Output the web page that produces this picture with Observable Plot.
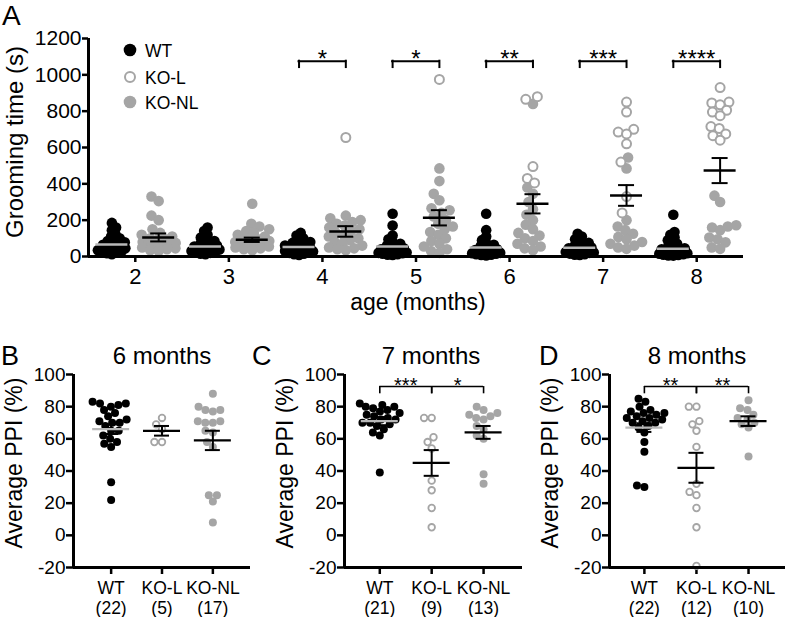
<!DOCTYPE html>
<html><head><meta charset="utf-8">
<script src="https://cdn.jsdelivr.net/npm/d3@7"></script>
<script src="https://cdn.jsdelivr.net/npm/@observablehq/plot@0.6"></script>
<style>
body{margin:0;background:#fff;}
#fig{position:relative;width:786px;height:617px;overflow:hidden;}
#fig svg{position:absolute;max-width:none;}
</style></head><body><div id="fig"></div>
<script>
// ---------------- data: panel A (grooming time, s) ----------------
const months = [2, 3, 4, 5, 6, 7, 8];
const groomTicks = [0, 200, 400, 600, 800, 1000, 1200];
const groomWT = [
  [185, 160, 145, 125, 110, 100, 92, 85, 78, 70, 65, 60, 55, 50, 45, 40, 35, 30, 28, 22, 18, 12],
  [160, 140, 120, 105, 95, 85, 78, 70, 65, 60, 55, 50, 45, 42, 38, 35, 30, 28, 25, 20, 15, 12],
  [130, 115, 100, 90, 80, 75, 70, 65, 60, 55, 50, 45, 40, 38, 35, 30, 28, 25, 20, 15, 12, 8],
  [235, 170, 115, 95, 80, 70, 62, 55, 50, 45, 40, 36, 32, 28, 25, 22, 20, 18, 15, 12, 10, 8],
  [235, 145, 110, 90, 75, 65, 58, 50, 45, 40, 36, 32, 28, 25, 22, 20, 18, 15, 12, 10, 8, 6],
  [125, 110, 95, 85, 75, 68, 60, 55, 50, 45, 40, 36, 32, 28, 25, 22, 20, 16, 12, 10, 8],
  [230, 135, 120, 105, 90, 80, 70, 60, 52, 45, 40, 35, 30, 26, 22, 18, 15, 12, 10, 8, 6, 5]
];
const groomKOL = [
  [], [], [655], [975],
  [880, 865, 495, 430, 405],
  [850, 795, 700, 685, 675, 620, 520, 330, 240],
  [930, 850, 845, 835, 805, 795, 775, 715, 705, 675, 665, 640]
];
const groomKONL = [
  [330, 305, 225, 200, 150, 130, 120, 110, 100, 95, 90, 80, 75, 70, 65, 60, 55, 50, 45, 40, 35, 30],
  [290, 180, 165, 150, 140, 130, 120, 110, 100, 95, 90, 85, 80, 75, 70, 65, 60, 55, 50, 45, 40, 35],
  [225, 210, 200, 190, 180, 170, 160, 150, 140, 130, 120, 110, 100, 90, 80, 70, 60, 50, 45, 40, 35],
  [485, 415, 345, 310, 265, 255, 240, 220, 200, 180, 165, 150, 135, 120, 100, 85, 70, 55, 40, 30, 20],
  [840, 380, 345, 300, 260, 230, 200, 175, 150, 130, 115, 100, 85, 70, 55, 45, 35],
  [545, 485, 200, 165, 145, 125, 108, 95, 80, 70, 60, 50, 42],
  [335, 300, 172, 165, 160, 145, 105, 95, 78, 50, 42]
];
const groomWTMean = [66, 55, 52, 55, 50, 48, 42];
const groomWTSem  = [9, 8, 7, 12, 12, 8, 11];
const groomKOMean = [105, 92, 138, 213, 290, 336, 473];
const groomKOSem  = [22, 12, 29, 42, 53, 57, 69];
const groomSig = ["", "", "*", "*", "**", "***", "****"];
const legendLabels = ["WT", "KO-L", "KO-NL"];

// ---------------- data: panels B-D (average PPI, %) ----------------
const ppiGroups = ["WT", "KO-L", "KO-NL"];
const ppiTicks = [-20, 0, 20, 40, 60, 80, 100];
const ppiTitles = ["6 months", "7 months", "8 months"];
const ppiLetters = ["B", "C", "D"];
const ppiWT6   = [83, 82, 82, 81, 80, 78, 76, 74, 72, 71, 70, 70, 68, 65, 65, 62, 60, 58, 57, 55, 33, 22];
const ppiKOL6  = [73, 69, 66, 58, 58];
const ppiKONL6 = [88, 80, 78, 78, 77, 71, 71, 70, 70, 65, 64, 58, 55, 25, 25, 21, 8];
const ppiMean6 = [66, 65, 59];
const ppiSem6  = [3, 3, 6];
const ppiWT7   = [82, 81, 80, 80, 79, 78, 77, 76, 75, 74, 73, 72, 72, 70, 70, 69, 68, 66, 64, 62, 39];
const ppiKOL7  = [73, 73, 61, 58, 54, 34, 28, 17, 5];
const ppiKONL7 = [80, 78, 76, 75, 74, 73, 72, 68, 66, 62, 60, 38, 32];
const ppiMean7 = [71, 45, 64];
const ppiSem7  = [2.5, 8, 4];
const ppiSig7  = ["***", "*"];
const ppiWT8   = [85, 83, 80, 78, 77, 76, 76, 75, 74, 73, 73, 72, 71, 70, 70, 68, 67, 64, 58, 52, 31, 30];
const ppiKOL8  = [80, 80, 71, 69, 65, 55, 32, 27, 25, 17, 5, -19];
const ppiKONL8 = [84, 79, 78, 75, 73, 72, 70, 69, 67, 49];
const ppiMean8 = [67, 42, 71];
const ppiSem8  = [2.7, 9.3, 3];
const ppiSig8  = ["**", "**"];

// ---------------- styling ----------------
const FONT = '"Liberation Sans", Arial, Helvetica, sans-serif';
const BLACK = "#000", GRAY = "#a5a5a5", MEANGRAY = "#b8b8b8";
const fig = document.getElementById("fig");
const plain = d => String(d);

// beeswarm offsets (px) from values
function swarm(vals, ky, d, maxHalf) {
  const n = vals.length, off = new Array(n), placed = [];
  const order = d3.range(n).sort((a, b) => vals[a] - vals[b]);
  for (const i of order) {
    const y = vals[i] * ky;
    const near = placed.filter(p => Math.abs(p.y - y) < d);
    const cands = [0];
    for (const p of near) { const dx = Math.sqrt(d * d - (p.y - y) ** 2); cands.push(p.x + dx, p.x - dx); }
    cands.sort((a, b) => Math.abs(a) - Math.abs(b) || a - b);
    let best = cands.find(c => Math.abs(c) <= maxHalf + 1e-9 &&
      near.every(p => (p.x - c) ** 2 + (p.y - y) ** 2 >= d * d - 1e-6));
    if (best === undefined) {
      let bs = -1;
      for (let c = -maxHalf; c <= maxHalf + 1e-9; c += 0.5) {
        const s = Math.min(...near.map(p => Math.hypot(p.x - c, p.y - y)));
        if (s > bs) { bs = s; best = c; }
      }
    }
    off[i] = best; placed.push({x: best, y});
  }
  return off;
}

// ---------------- panel A ----------------
{
  const W = 786, H = 300, ML = 88, MR = 43, MT = 38, MB = 44;
  const xDom = [1.5, 8.5], yDom = [0, 1200];
  const kx = (W - ML - MR) / (xDom[1] - xDom[0]);
  const ky = (H - MT - MB) / (yDom[1] - yDom[0]);
  const WO = -0.25, KO = 0.25;
  const pts = [];
  months.forEach((m, i) => {
    const wt = groomWT[i];
    const ow = swarm(wt, ky, 5, 14);
    wt.forEach((v, j) => pts.push({x: m + WO + ow[j] / kx, y: v, g: "WT"}));
    const ko = groomKOL[i].map(v => ({v, g: "KO-L"})).concat(groomKONL[i].map(v => ({v, g: "KO-NL"})));
    const ok = swarm(ko.map(d => d.v), ky, 8.5, 17);
    ko.forEach((d, j) => pts.push({x: m + KO + ok[j] / kx, y: d.v, g: d.g}));
  });
  const stats = months.map((m, i) => ({m, wm: groomWTMean[i], ws: groomWTSem[i], km: groomKOMean[i], ks: groomKOSem[i]}));
  const sig = months.map((m, i) => ({m, s: groomSig[i]})).filter(d => d.s);
  const meanW = 16 / kx, capW = 8 / kx, BR = 1075, BRT = 1040;
  const plot = Plot.plot({
    width: W, height: H, marginLeft: ML, marginRight: MR, marginTop: MT, marginBottom: MB,
    x: {domain: xDom}, y: {domain: yDom},
    style: {fontFamily: FONT, color: BLACK, background: "transparent"},
    marks: [
      Plot.axisY({ticks: groomTicks, tickFormat: plain, tickSize: 6, tickPadding: 1, fontSize: 21, strokeWidth: 2.5, label: null}),
      Plot.axisX({ticks: months, tickFormat: plain, tickSize: 6, tickPadding: 6, fontSize: 22, strokeWidth: 2.5, label: null}),
      Plot.dot(pts.filter(d => d.g === "WT"), {x: "x", y: "y", r: 5.3, fill: BLACK}),
      Plot.dot(pts.filter(d => d.g === "KO-NL"), {x: "x", y: "y", r: 5.3, fill: GRAY}),
      Plot.dot(pts.filter(d => d.g === "KO-L"), {x: "x", y: "y", r: 4.5, fill: "#fff", stroke: GRAY, strokeWidth: 2}),
      // WT mean (gray) and SEM
      Plot.ruleX(stats, {x: d => d.m + WO, y1: d => d.wm - d.ws, y2: d => d.wm + d.ws, stroke: BLACK, strokeWidth: 2}),
      Plot.ruleY(stats, {y: d => d.wm + d.ws, x1: d => d.m + WO - capW, x2: d => d.m + WO + capW, stroke: BLACK, strokeWidth: 2}),
      Plot.ruleY(stats, {y: d => d.wm - d.ws, x1: d => d.m + WO - capW, x2: d => d.m + WO + capW, stroke: BLACK, strokeWidth: 2}),
      Plot.ruleY(stats, {y: "wm", x1: d => d.m + WO - meanW, x2: d => d.m + WO + meanW, stroke: MEANGRAY, strokeWidth: 2.5}),
      // KO mean and SEM
      Plot.ruleX(stats, {x: d => d.m + KO, y1: d => d.km - d.ks, y2: d => d.km + d.ks, stroke: BLACK, strokeWidth: 2}),
      Plot.ruleY(stats, {y: d => d.km + d.ks, x1: d => d.m + KO - capW, x2: d => d.m + KO + capW, stroke: BLACK, strokeWidth: 2}),
      Plot.ruleY(stats, {y: d => d.km - d.ks, x1: d => d.m + KO - capW, x2: d => d.m + KO + capW, stroke: BLACK, strokeWidth: 2}),
      Plot.ruleY(stats, {y: "km", x1: d => d.m + KO - meanW, x2: d => d.m + KO + meanW, stroke: BLACK, strokeWidth: 2.5}),
      // significance brackets
      Plot.ruleY(sig, {y: BR, x1: d => d.m + WO, x2: d => d.m + KO, stroke: BLACK, strokeWidth: 2, strokeLinecap: "square"}),
      Plot.ruleX(sig, {x: d => d.m + WO, y1: BRT, y2: BR, stroke: BLACK, strokeWidth: 2, strokeLinecap: "square"}),
      Plot.ruleX(sig, {x: d => d.m + KO, y1: BRT, y2: BR, stroke: BLACK, strokeWidth: 2, strokeLinecap: "square"}),
      Plot.text(sig, {x: "m", y: BR, text: "s", fontSize: 24, lineAnchor: "bottom", dy: 6, fill: BLACK}),
      // axis lines
      Plot.ruleX([xDom[0]], {stroke: BLACK, strokeWidth: 3}),
      Plot.ruleY([yDom[0]], {stroke: BLACK, strokeWidth: 3})
    ]
  });
  plot.style.left = "0px"; plot.style.top = "0px";
  fig.appendChild(plot);
}

// ---------------- panels B-D ----------------
const PPI_TOP = 330, PPI_H = 287, PPI_MT = 44, PPI_MB = 50;
const panels = [
  {left: 0, width: 258, ml: 73, mr: 8, xDom: [-0.74, 2.74], data: [ppiWT6, ppiKOL6, ppiKONL6], mean: ppiMean6, sem: ppiSem6, sig: null},
  {left: 258, width: 268, ml: 86, mr: 4, xDom: [-0.68, 2.75], data: [ppiWT7, ppiKOL7, ppiKONL7], mean: ppiMean7, sem: ppiSem7, sig: ppiSig7},
  {left: 526, width: 260, ml: 83, mr: 1, xDom: [-0.67, 2.71], data: [ppiWT8, ppiKOL8, ppiKONL8], mean: ppiMean8, sem: ppiSem8, sig: ppiSig8}
];
panels.forEach(p => {
  const yDom = [ppiTicks[0], ppiTicks[ppiTicks.length - 1]];
  const kx = (p.width - p.ml - p.mr) / (p.xDom[1] - p.xDom[0]);
  const ky = (PPI_H - PPI_MT - PPI_MB) / (yDom[1] - yDom[0]);
  const pts = [];
  p.data.forEach((vals, gi) => {
    const off = swarm(vals, ky, 7.6, 20);
    vals.forEach((v, j) => pts.push({x: gi + off[j] / kx, y: v, g: ppiGroups[gi]}));
  });
  const stats = ppiGroups.map((g, i) => ({i, g, mean: p.mean[i], sem: p.sem[i]}));
  const meanW = 18.5 / kx, capW = 7.5 / kx;
  const sig = p.sig ? p.sig.map((s, i) => ({x: i + 0.5, s})) : [];
  const sigEnds = sig.flatMap(d => [d.x - 0.5, d.x + 0.5]);
  const BR = 92.5, BRT = 88;
  const plot = Plot.plot({
    width: p.width, height: PPI_H, marginLeft: p.ml, marginRight: p.mr, marginTop: PPI_MT, marginBottom: PPI_MB,
    x: {domain: p.xDom}, y: {domain: yDom},
    style: {fontFamily: FONT, color: BLACK, background: "transparent"},
    marks: [
      Plot.axisY({ticks: ppiTicks, tickFormat: plain, tickSize: 7, tickPadding: 1, fontSize: 19, strokeWidth: 2.5, label: null}),
      Plot.axisX({ticks: [0, 1, 2], tickSize: 7, tickPadding: 5, fontSize: 17.5, lineHeight: 1.15, strokeWidth: 2.5, label: null,
        tickFormat: i => `${ppiGroups[i]}\n(${p.data[i].length})`}),
      Plot.dot(pts.filter(d => d.g === "WT"), {x: "x", y: "y", r: 4, fill: BLACK}),
      Plot.dot(pts.filter(d => d.g === "KO-NL"), {x: "x", y: "y", r: 4, fill: GRAY}),
      Plot.dot(pts.filter(d => d.g === "KO-L"), {x: "x", y: "y", r: 3.3, fill: "#fff", stroke: GRAY, strokeWidth: 1.8}),
      Plot.ruleX(stats, {x: "i", y1: d => d.mean - d.sem, y2: d => d.mean + d.sem, stroke: BLACK, strokeWidth: 2}),
      Plot.ruleY(stats, {y: d => d.mean + d.sem, x1: d => d.i - capW, x2: d => d.i + capW, stroke: BLACK, strokeWidth: 2}),
      Plot.ruleY(stats, {y: d => d.mean - d.sem, x1: d => d.i - capW, x2: d => d.i + capW, stroke: BLACK, strokeWidth: 2}),
      Plot.ruleY(stats, {y: "mean", x1: d => d.i - meanW, x2: d => d.i + meanW, stroke: d => d.g === "WT" ? MEANGRAY : BLACK, strokeWidth: 2.2}),
      Plot.ruleY(sig, {y: BR, x1: d => d.x - 0.5, x2: d => d.x + 0.5, stroke: BLACK, strokeWidth: 1.6}),
      Plot.ruleX(sigEnds, {x: d => d, y1: BRT, y2: BR, stroke: BLACK, strokeWidth: 1.6}),
      Plot.text(sig, {x: "x", y: BR, text: "s", fontSize: 20, lineAnchor: "bottom", dy: 5, fill: BLACK}),
      Plot.ruleX([p.xDom[0]], {stroke: BLACK, strokeWidth: 3}),
      Plot.ruleY([yDom[0]], {stroke: BLACK, strokeWidth: 3})
    ]
  });
  plot.style.left = p.left + "px"; plot.style.top = PPI_TOP + "px";
  fig.appendChild(plot);
});

// ---------------- overlay: panel letters, titles, axis titles, legend ----------------
const ov = d3.select(fig).append("svg").attr("width", 786).attr("height", 617)
  .style("left", "0px").style("top", "0px").style("pointer-events", "none")
  .attr("font-family", FONT).attr("fill", BLACK);
ov.append("text").attr("x", 2).attr("y", 25).attr("font-size", 28).text("A");
ov.append("text").attr("transform", "translate(23,142) rotate(-90)").attr("text-anchor", "middle").attr("font-size", 24).text("Grooming time (s)");
ov.append("text").attr("x", 418).attr("y", 310).attr("text-anchor", "middle").attr("font-size", 23).text("age (months)");
const legY = [50, 77, 102];
legendLabels.forEach((lab, i) => {
  const c = ov.append("circle").attr("cx", 130).attr("cy", legY[i]);
  if (lab === "WT") c.attr("r", 6.3).attr("fill", BLACK);
  else if (lab === "KO-L") c.attr("r", 5).attr("fill", "#fff").attr("stroke", GRAY).attr("stroke-width", 2);
  else c.attr("r", 6.3).attr("fill", GRAY);
  ov.append("text").attr("x", 145).attr("y", legY[i] + 6.5).attr("font-size", 17.5).text(lab);
});
const letterX = [1, 252, 539], titleX = [162, 431, 697], ylabX = [22, 293, 558];
ppiLetters.forEach((L, i) => {
  ov.append("text").attr("x", letterX[i]).attr("y", 365).attr("font-size", 27).text(L);
  ov.append("text").attr("x", titleX[i]).attr("y", 364).attr("text-anchor", "middle").attr("font-size", 24).text(ppiTitles[i]);
  ov.append("text").attr("transform", `translate(${ylabX[i]},463) rotate(-90)`).attr("text-anchor", "middle").attr("font-size", 23).text("Average PPI (%)");
});
</script></body></html>
